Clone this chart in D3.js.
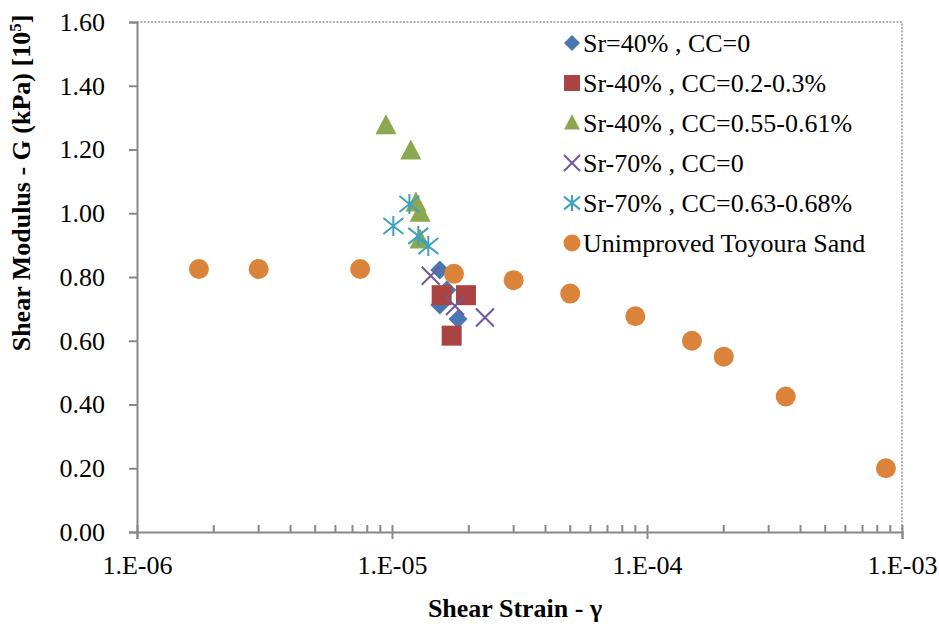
<!DOCTYPE html>
<html>
<head>
<meta charset="utf-8">
<script src="https://cdn.jsdelivr.net/npm/d3@7"></script>
<style>
  body { margin: 0; background: #fff; }
  text { font-family: "Liberation Serif", "Times New Roman", serif; }
</style>
</head>
<body>
<svg></svg>
<script>
var width = 939;
var height = 628;
var svg = d3.select("svg");
svg.attr('width', width).attr('height', height);

// data: [strain, G (x10^5 kPa)]
var sr40cc0 = [[1.54e-5, 0.822], [1.64e-5, 0.759], [1.54e-5, 0.712], [1.815e-5, 0.668]];
var sr40cc02 = [[1.566e-5, 0.743], [1.95e-5, 0.743], [1.714e-5, 0.616]];
var sr40cc055 = [[9.47e-6, 1.274], [1.185e-5, 1.195], [1.242e-5, 1.032], [1.29e-5, 1.0], [1.288e-5, 0.916]];
var sr70cc0 = [[1.419e-5, 0.804], [1.766e-5, 0.709], [2.315e-5, 0.673]];
var sr70cc063 = [[1.17e-5, 1.029], [1.012e-5, 0.96], [1.268e-5, 0.929], [1.388e-5, 0.897]];
var toyoura = [[1.75e-6, 0.825], [3e-6, 0.825], [7.5e-6, 0.825], [1.75e-5, 0.81], [3e-5, 0.79],
               [5e-5, 0.748], [9e-5, 0.677], [1.5e-4, 0.60], [2e-4, 0.55], [3.5e-4, 0.425], [8.65e-4, 0.20]];

var seriesNames = ['Sr=40%, CC=0', 'Sr-40%, CC=0.2-0.3%', 'Sr-40%, CC=0.55-0.61%',
                   'Sr-70%, CC=0', 'Sr-70%, CC=0.63-0.68%', 'Unimproved Toyoura Sand'];
var xTicks = [1e-6, 1e-5, 1e-4, 1e-3];
var yTicks = [0, 0.2, 0.4, 0.6, 0.8, 1.0, 1.2, 1.4, 1.6];

var series = [
  {name: seriesNames[0], data: sr40cc0, shape: 'diamond', color: '#4a77b0'},
  {name: seriesNames[1], data: sr40cc02, shape: 'square', color: '#a94443'},
  {name: seriesNames[2], data: sr40cc055, shape: 'triangle', color: '#8ca84f'},
  {name: seriesNames[3], data: sr70cc0, shape: 'x', color: '#71589a'},
  {name: seriesNames[4], data: sr70cc063, shape: 'asterisk', color: '#3fa1bc'},
  {name: seriesNames[5], data: toyoura, shape: 'circle', color: '#dc833b'}
];

var plotLeft = 137, plotRight = 902, plotTop = 22, plotBottom = 532;
var fontSize = 26;

var xScale = d3.scaleLog()
               .domain([1e-6, 1e-3])
               .range([plotLeft, plotRight]);

var yScale = d3.scaleLinear()
               .domain([0, 1.6])
               .range([plotBottom, plotTop]);

var axisColor = '#888';

// top and right border (dotted)
svg.append('path')
  .attr('d', 'M' + plotLeft + ',' + plotTop + 'H' + plotRight + 'V' + plotBottom)
  .attr('fill', 'none')
  .attr('stroke', '#999')
  .attr('stroke-width', 1.5)
  .attr('stroke-dasharray', '2,1.5');

// y axis
var yAxis = d3.axisLeft(yScale)
  .tickValues(yTicks)
  .tickSize(8)
  .tickPadding(24)
  .tickFormat(d3.format('.2f'));

var gy = svg.append('g')
  .attr('transform', 'translate(' + plotLeft + ',0)')
  .call(yAxis);
gy.select('.domain').attr('stroke', axisColor).attr('stroke-width', 2);
gy.selectAll('.tick line').attr('stroke', axisColor).attr('stroke-width', 2);
gy.selectAll('.tick text')
  .attr('font-size', fontSize)
  .attr('font-family', '"Liberation Serif", serif')
  .attr('fill', '#000');

// x axis minor ticks (inside)
var minor = [];
xTicks.slice(0, 3).forEach(function(d) {
  for (var i = 2; i <= 9; i++) minor.push(d * i);
});
svg.selectAll('line.minor')
  .data(minor)
  .enter()
  .append('line')
  .attr('class', 'minor')
  .attr('x1', function(d) { return xScale(d); })
  .attr('x2', function(d) { return xScale(d); })
  .attr('y1', plotBottom)
  .attr('y2', plotBottom - 7)
  .attr('stroke', axisColor)
  .attr('stroke-width', 2);

// x axis
var xAxis = d3.axisBottom(xScale)
  .tickValues(xTicks)
  .tickSize(7)
  .tickPadding(17)
  .tickFormat(function(d) { return '1.E-' + d3.format('02d')(-Math.round(Math.log10(d))); });

var gx = svg.append('g')
  .attr('transform', 'translate(0,' + plotBottom + ')')
  .call(xAxis);
gx.select('.domain').attr('stroke', axisColor).attr('stroke-width', 2);
gx.selectAll('.tick line').attr('stroke', axisColor).attr('stroke-width', 2).attr('y1', -7);
gx.selectAll('.tick text')
  .attr('font-size', fontSize)
  .attr('font-family', '"Liberation Serif", serif')
  .attr('fill', '#000');

// marker paths
function markerPath(shape, s) {
  if (shape === 'diamond') return 'M0,' + (-s) + 'L' + s + ',0L0,' + s + 'L' + (-s) + ',0Z';
  if (shape === 'square') return 'M' + (-s) + ',' + (-s) + 'H' + s + 'V' + s + 'H' + (-s) + 'Z';
  if (shape === 'triangle') return 'M0,' + (-s * 1.1) + 'L' + s + ',' + (s * 0.8) + 'L' + (-s) + ',' + (s * 0.8) + 'Z';
  if (shape === 'x') return 'M' + (-s) + ',' + (-s) + 'L' + s + ',' + s + 'M' + s + ',' + (-s) + 'L' + (-s) + ',' + s;
  if (shape === 'asterisk') return 'M' + (-s) + ',' + (-s * 0.8) + 'L' + s + ',' + (s * 0.8) +
    'M' + s + ',' + (-s * 0.8) + 'L' + (-s) + ',' + (s * 0.8) + 'M0,' + (-s) + 'V' + s;
  return null;
}
var sizes = {diamond: 9.5, square: 10, triangle: 10.5, x: 9, asterisk: 10, circle: 10};

function drawMarker(g, shape, color, s) {
  if (shape === 'circle') {
    g.append('circle').attr('r', s).attr('fill', color);
  } else if (shape === 'x' || shape === 'asterisk') {
    g.append('path').attr('d', markerPath(shape, s)).attr('fill', 'none')
      .attr('stroke', color).attr('stroke-width', 2);
  } else {
    g.append('path').attr('d', markerPath(shape, s)).attr('fill', color);
  }
}

// add points
series.forEach(function(ser) {
  svg.append('g').selectAll('g')
    .data(ser.data)
    .enter()
    .append('g')
    .attr('transform', function(d) {
      return 'translate(' + xScale(d[0]) + ',' + yScale(d[1]) + ')';
    })
    .each(function() {
      drawMarker(d3.select(this), ser.shape, ser.color, sizes[ser.shape]);
    });
});

// legend
var legend = svg.append('g');
series.forEach(function(ser, i) {
  var row = legend.append('g')
    .attr('transform', 'translate(572,' + (43 + i * 40) + ')');
  drawMarker(row, ser.shape, ser.color, ser.shape === 'circle' ? 8.5 : 8);
  row.append('text')
    .attr('x', 11)
    .attr('y', 9)
    .attr('font-size', fontSize)
    .text(ser.name.replace(',', ' ,'));
});

// axis titles
svg.append('text')
  .attr('x', 515)
  .attr('y', 617)
  .attr('text-anchor', 'middle')
  .attr('font-size', fontSize)
  .attr('font-weight', 'bold')
  .text('Shear Strain - γ');

var yt = svg.append('text')
  .attr('transform', 'translate(30,183) rotate(-90)')
  .attr('text-anchor', 'middle')
  .attr('font-size', fontSize)
  .attr('font-weight', 'bold');
yt.append('tspan').text('Shear Modulus - G (kPa) [10');
yt.append('tspan').attr('font-size', 17).attr('dy', -9).text('5');
yt.append('tspan').attr('dy', 9).text(']');
</script>
</body>
</html>
